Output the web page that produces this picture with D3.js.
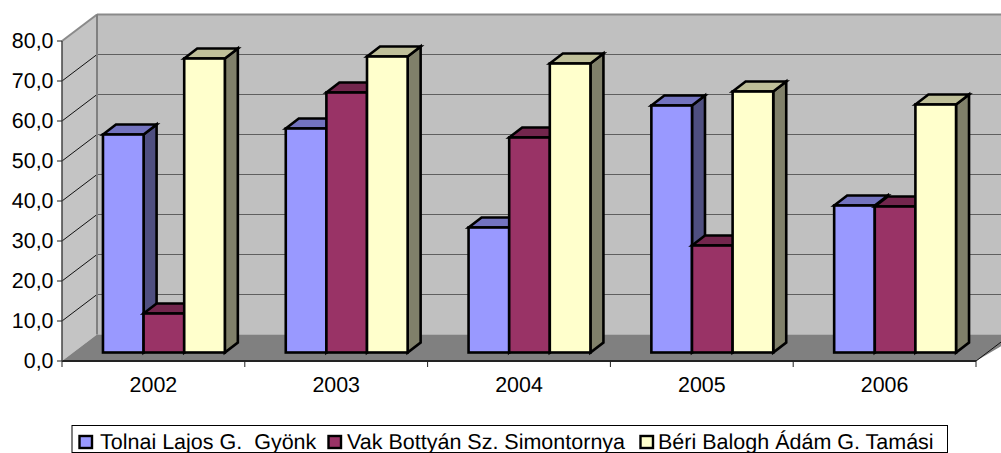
<!DOCTYPE html>
<html><head><meta charset="utf-8">
<script src="https://cdn.jsdelivr.net/npm/d3@7"></script>
<style>html,body{margin:0;padding:0;background:#fff;overflow:hidden}svg{display:block}text{font-family:"Liberation Sans",Arial,sans-serif;fill:#000;text-rendering:geometricPrecision}</style>
</head><body><svg id="c" width="1001" height="453"></svg>
<script>
const years = ["2002","2003","2004","2005","2006"];
const seriesNames = ["Tolnai Lajos G.\u00a0\u00a0Gyönk","Vak Bottyán Sz. Simontornya","Béri Balogh Ádám G. Tamási"];
const tolnai = [54.5,56,31.25,61.75,36.75];
const vak = [9.75,65,53.75,26.75,36.5];
const beri = [73.5,74,72.25,65.25,62];
const yTicks = [0,10,20,30,40,50,60,70,80];
const faceColors = ["#9999FF","#993366","#FFFFCC"];
const sideColors = ["#4F4F80","#4D1A33","#80806A"];
const topColors = ["#7373BF","#73264D","#BFBF99"];

const W=1001,H=453;
const svg=d3.select("#c");
const x=d3.scaleBand().domain(years).range([62,976]);
const y=d3.scaleLinear().domain([0,80]).range([361,41]);
const wall={dx:35,dy:-26.5};
const bar={dx:13,dy:-10,ox:10.5,oy:-8.5};
const inner=d3.scaleBand().domain([0,1,2]).range([0,x.bandwidth()]).paddingOuter(0.75).paddingInner(0);
const x0=62,x1=976;
const poly=(pts)=>pts.map(p=>p.join(",")).join(" ");
const FS=21.4, LFS=21.5;

const y0=y(0),yT=y(80);
svg.append("polygon").attr("points",poly([[x0+wall.dx,y0+wall.dy],[x0+wall.dx,yT+wall.dy],[x1+wall.dx+10,yT+wall.dy],[x1+wall.dx+10,y0+wall.dy]])).attr("fill","#C0C0C0");
svg.append("polygon").attr("points",poly([[x0,y0],[x0,yT],[x0+wall.dx,yT+wall.dy],[x0+wall.dx,y0+wall.dy]])).attr("fill","#C4C4C4");
svg.append("polygon").attr("points",poly([[x0,y0],[x0+wall.dx,y0+wall.dy],[x1+wall.dx+10,y0+wall.dy],[x1,y0]])).attr("fill","#808080");

yTicks.forEach(t=>{
  const yy=y(t);
  if(t>0&&t<80){
    svg.append("line").attr("x1",x0+wall.dx).attr("x2",W).attr("y1",yy+wall.dy).attr("y2",yy+wall.dy).attr("stroke","#5F5F5F").attr("stroke-width",1.2);
    svg.append("line").attr("x1",x0).attr("x2",x0+wall.dx).attr("y1",yy).attr("y2",yy+wall.dy).attr("stroke","#111").attr("stroke-width",1);
  }
});
svg.append("line").attr("x1",x0+wall.dx).attr("x2",W).attr("y1",yT+wall.dy).attr("y2",yT+wall.dy).attr("stroke","#8A8A8A").attr("stroke-width",2);
svg.append("line").attr("x1",x0).attr("x2",x0+wall.dx).attr("y1",yT).attr("y2",yT+wall.dy).attr("stroke","#8A8A8A").attr("stroke-width",2);
svg.append("line").attr("x1",x0+wall.dx).attr("x2",x0+wall.dx).attr("y1",yT+wall.dy).attr("y2",y0+wall.dy).attr("stroke","#808080").attr("stroke-width",2);
svg.append("line").attr("x1",x1).attr("x2",x1+wall.dx).attr("y1",y0).attr("y2",y0+wall.dy).attr("stroke","#111").attr("stroke-width",1);

const seriesValues=[tolnai,vak,beri];
years.forEach((yr,i)=>{
  seriesValues.forEach((vals,s)=>{
    const l=x(yr)+inner(s)+bar.ox, r=l+inner.bandwidth();
    const b=y(0)+bar.oy, t=y(vals[i])+bar.oy;
    const g=svg.append("g").attr("stroke","#000").attr("stroke-width",2.6).attr("stroke-linejoin","miter");
    g.append("polygon").attr("points",poly([[r,b],[r,t],[r+bar.dx,t+bar.dy],[r+bar.dx,b+bar.dy]])).attr("fill",sideColors[s]);
    g.append("polygon").attr("points",poly([[l,t],[l+bar.dx,t+bar.dy],[r+bar.dx,t+bar.dy],[r,t]])).attr("fill",topColors[s]);
    g.append("rect").attr("x",l).attr("y",t).attr("width",r-l).attr("height",b-t).attr("fill",faceColors[s]);
  });
});

svg.append("line").attr("x1",x0).attr("x2",x1).attr("y1",y0).attr("y2",y0).attr("stroke","#222").attr("stroke-width",2);
svg.append("line").attr("x1",x0).attr("x2",x0).attr("y1",yT).attr("y2",y0).attr("stroke","#444").attr("stroke-width",1.5);
yTicks.forEach(t=>{
  svg.append("line").attr("x1",x0-5).attr("x2",x0).attr("y1",y(t)).attr("y2",y(t)).attr("stroke","#222").attr("stroke-width",1);
  svg.append("text").attr("x",53.5).attr("y",y(t)+6.5).attr("text-anchor","end").attr("font-size",FS).text(t.toFixed(1).replace(".",","));
});
years.concat([null]).forEach((yr,i)=>{
  const tx=yr?x(yr):x1;
  svg.append("line").attr("x1",tx).attr("x2",tx).attr("y1",y0).attr("y2",y0+6).attr("stroke","#222").attr("stroke-width",1);
  if(yr) svg.append("text").attr("x",x(yr)+x.bandwidth()/2).attr("y",391.5).attr("text-anchor","middle").attr("font-size",FS).text(yr);
});

const lg=svg.append("g");
lg.append("rect").attr("x",72).attr("y",425.5).attr("width",875.5).attr("height",27).attr("fill","#fff").attr("stroke","#000").attr("stroke-width",1);
const legendSwatch=[79.5,328.5,640.5];
const legendText=[100,347,658];
seriesNames.forEach((n,s)=>{
  lg.append("rect").attr("x",legendSwatch[s]).attr("y",436).attr("width",12.5).attr("height",12).attr("fill",faceColors[s]).attr("stroke","#000").attr("stroke-width",2.4);
  lg.append("text").attr("x",legendText[s]).attr("y",449).attr("font-size",LFS).text(n);
});
</script></body></html>
